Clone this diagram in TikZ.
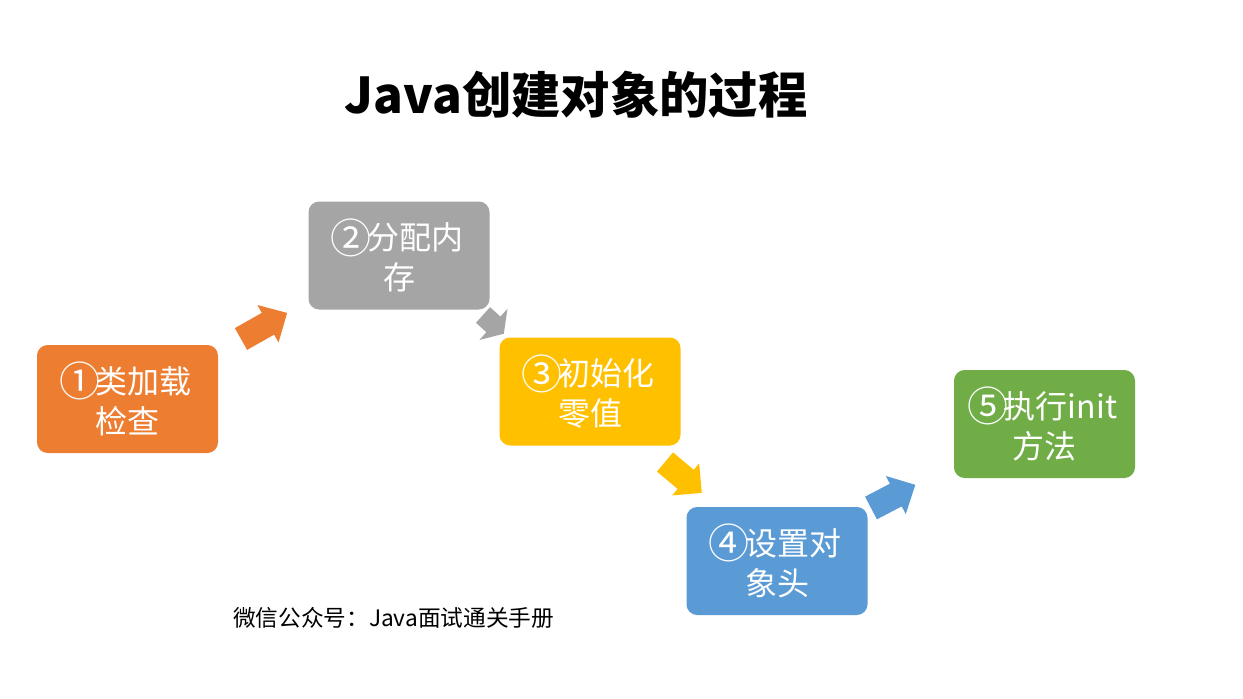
\documentclass[tikz,border=0pt]{standalone}
\usepackage{fontspec}
\usepackage{graphicx}
\setmainfont{Noto Sans CJK SC}
\definecolor{cOrange}{HTML}{ED7D31}
\definecolor{cGray}{HTML}{A5A5A5}
\definecolor{cYellow}{HTML}{FFC000}
\definecolor{cBlue}{HTML}{5B9BD5}
\definecolor{cGreen}{HTML}{70AD47}
\newcommand\bignum[1]{\makebox[1em]{\raisebox{-0.1em}{\scalebox{1.28}{#1}}}}
\tikzset{
  stepbox/.style={rounded corners=8pt, minimum width=135.75pt, minimum height=81pt,
    inner sep=0pt, align=center, text=white,
    font=\fontsize{24pt}{30pt}\selectfont},
}
\begin{document}
\begin{tikzpicture}[x=0.75pt,y=-0.75pt]
\useasboundingbox[fill=white] (0,0) rectangle (1243,699);
% title
\node (title) at (576,95) {\fontsize{37pt}{44pt}\selectfont\bfseries Java创建对象的过程};
% arrows (drawn under the boxes)
\coordinate (a1) at (241,339);
\coordinate (a2) at (483,315);
\coordinate (a3) at (665,462);
\coordinate (a4) at (871,508);
\begin{scope}[shift={(a1)}, rotate=29.5]
\fill[cOrange] (0,-12.5) -- (31,-12.5) -- (31,-21.5) -- (53,0) -- (31,21.5) -- (31,12.5) -- (0,12.5) -- cycle;
\end{scope}
\begin{scope}[shift={(a2)}, rotate=-42]
\fill[cGray] (0,-10.5) -- (14,-10.5) -- (14,-21) -- (28,0) -- (14,21) -- (14,10.5) -- (0,10.5) -- cycle;
\end{scope}
\begin{scope}[shift={(a3)}, rotate=-40]
\fill[cYellow] (0,-12.5) -- (27,-12.5) -- (27,-21) -- (48,0) -- (27,21) -- (27,12.5) -- (0,12.5) -- cycle;
\end{scope}
\begin{scope}[shift={(a4)}, rotate=27.6]
\fill[cBlue] (0,-12.8) -- (28,-12.8) -- (28,-21.5) -- (50,0) -- (28,21.5) -- (28,12.8) -- (0,12.8) -- cycle;
\end{scope}
% boxes
\node[stepbox, fill=cOrange] (b1) at (127.5,399) {\bignum{①}类加载\\检查};
\node[stepbox, fill=cGray]   (b2) at (399,255.5) {\bignum{②}分配内\\存};
\node[stepbox, fill=cYellow] (b3) at (590,391.5) {\bignum{③}初始化\\零值};
\node[stepbox, fill=cBlue]   (b4) at (777,561) {\bignum{④}设置对\\象头};
\node[stepbox, fill=cGreen]  (b5) at (1044.5,424) {\bignum{⑤}执行init\\方法};
% footer
\node (foot) at (393.5,618) {\fontsize{17pt}{20pt}\selectfont 微信公众号：Java面试通关手册};
\end{tikzpicture}
\end{document}
